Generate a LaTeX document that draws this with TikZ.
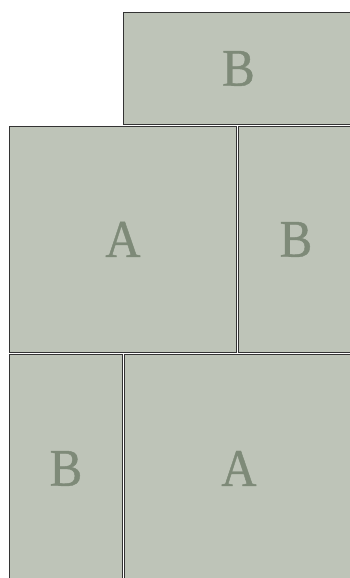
\documentclass[tikz,border=0pt]{standalone}
\usepackage{fontspec}
\setmainfont{Liberation Serif}[FakeBold=0.8,FakeStretch=0.92]
\definecolor{panelC}{RGB}{190,196,184}
\definecolor{letterC}{RGB}{126,138,120}

\begin{document}
\begin{tikzpicture}[
  panel/.style={rectangle, draw=black!80, line width=0.9pt, fill=panelC,
    text=letterC, font=\fontsize{53}{53}\selectfont, inner sep=0pt, anchor=north west},
  x=1pt, y=-1pt  % pixel scale of the reference, y pointing down
]
\useasboundingbox (0,0) rectangle (350,578);
\clip (0,0) rectangle (350,578);

% ---------- top row ----------
\node[panel, minimum width=230pt, minimum height=112pt] (topB) at (123,12) {B};

% ---------- middle row ----------
\node[panel, minimum width=227pt, minimum height=226pt] (midA) at (9,126) {A};
\node[panel, minimum width=115pt, minimum height=226pt] (midB) at (238,126) {B};

% ---------- bottom row ----------
\node[panel, minimum width=113pt, minimum height=228pt] (lowB) at (9,354) {B};
\node[panel, minimum width=229pt, minimum height=228pt] (lowA) at (124,354) {A};

\end{tikzpicture}
\end{document}
